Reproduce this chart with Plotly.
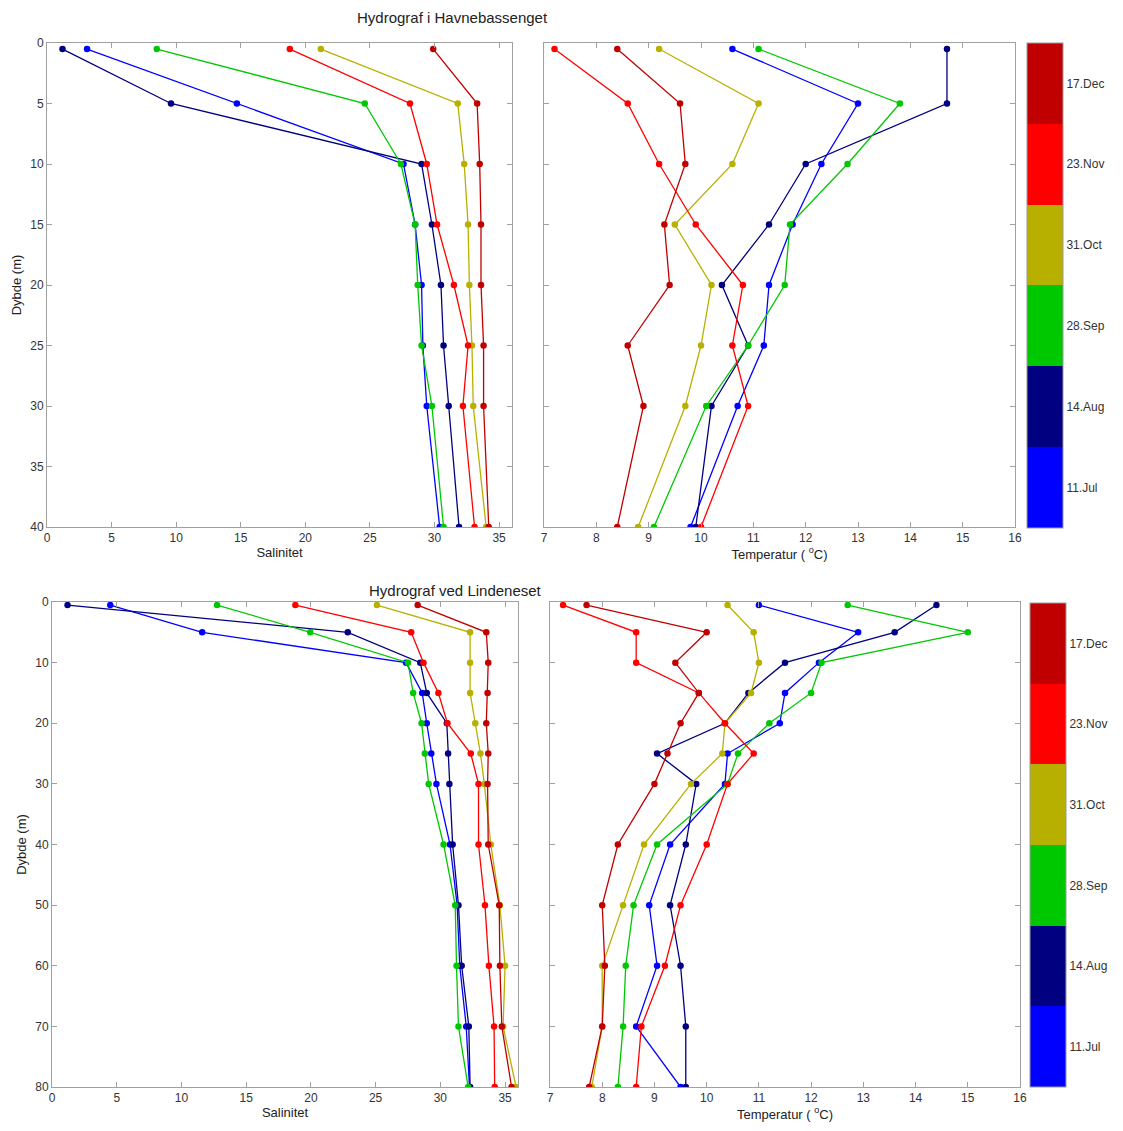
import plotly.graph_objects as go

# ---------------- data ----------------
dates = ["11.Jul", "14.Aug", "28.Sep", "31.Oct", "23.Nov", "17.Dec"]
colors = ["#0000ff", "#000080", "#00c800", "#b8b000", "#ff0000", "#c00000"]

depth_havn = [0.5, 5, 10, 15, 20, 25, 30, 40]
depth_lind = [0.5, 5, 10, 15, 20, 25, 30, 40, 50, 60, 70, 80]

# Hydrograf i Havnebassenget - salinity
sal_havn_jul = [3.1, 14.7, 27.6, 28.5, 29.0, 29.1, 29.4, 30.4]
sal_havn_aug = [1.2, 9.6, 29.0, 29.8, 30.5, 30.7, 31.1, 31.9]
sal_havn_sep = [8.5, 24.6, 27.4, 28.5, 28.7, 29.0, 29.8, 30.7]
sal_havn_oct = [21.2, 31.8, 32.3, 32.6, 32.7, 32.9, 33.0, 34.0]
sal_havn_nov = [18.8, 28.1, 29.4, 30.2, 31.5, 32.6, 32.2, 33.1]
sal_havn_dec = [29.9, 33.3, 33.5, 33.6, 33.6, 33.8, 33.8, 34.2]

# Hydrograf i Havnebassenget - temperature
tmp_havn_jul = [10.6, 13.0, 12.3, 11.75, 11.3, 11.2, 10.7, 9.8]
tmp_havn_aug = [14.7, 14.7, 12.0, 11.3, 10.4, 10.9, 10.2, 9.9]
tmp_havn_sep = [11.1, 13.8, 12.8, 11.7, 11.6, 10.9, 10.1, 9.1]
tmp_havn_oct = [9.2, 11.1, 10.6, 9.5, 10.2, 10.0, 9.7, 8.8]
tmp_havn_nov = [7.2, 8.6, 9.2, 9.9, 10.8, 10.6, 10.9, 10.0]
tmp_havn_dec = [8.4, 9.6, 9.7, 9.3, 9.4, 8.6, 8.9, 8.4]

# Hydrograf ved Lindeneset - salinity
sal_lind_jul = [4.5, 11.6, 27.35, 28.6, 28.95, 29.3, 29.7, 30.75, 31.3, 31.5, 32.0, 32.25]
sal_lind_aug = [1.2, 22.85, 28.45, 28.95, 30.5, 30.6, 30.7, 30.95, 31.4, 31.65, 32.2, 32.3]
sal_lind_sep = [12.75, 19.95, 27.5, 27.9, 28.55, 28.8, 29.1, 30.25, 31.15, 31.25, 31.4, 32.15]
sal_lind_oct = [25.1, 32.3, 32.3, 32.3, 32.7, 33.1, 33.4, 33.9, 34.6, 35.0, 34.85, 35.85]
sal_lind_nov = [18.8, 27.75, 28.7, 29.85, 30.55, 32.35, 32.95, 32.95, 33.45, 33.75, 34.15, 34.2]
sal_lind_dec = [28.25, 33.55, 33.7, 33.65, 33.55, 33.7, 33.65, 33.7, 34.55, 34.6, 34.75, 35.5]

# Hydrograf ved Lindeneset - temperature
tmp_lind_jul = [11.0, 12.9, 12.15, 11.5, 11.4, 10.4, 10.35, 9.3, 8.9, 9.05, 8.65, 9.5]
tmp_lind_aug = [14.4, 13.6, 11.5, 10.8, 10.35, 9.05, 9.8, 9.6, 9.3, 9.5, 9.6, 9.6]
tmp_lind_sep = [12.7, 15.0, 12.2, 12.0, 11.2, 10.6, 10.4, 9.05, 8.6, 8.45, 8.4, 8.3]
tmp_lind_oct = [10.4, 10.9, 11.0, 10.85, 10.35, 10.3, 9.7, 8.8, 8.4, 8.0, 8.0, 7.8]
tmp_lind_nov = [7.25, 8.65, 8.65, 9.85, 10.35, 10.9, 10.4, 10.0, 9.5, 9.2, 8.75, 8.65]
tmp_lind_dec = [7.7, 10.0, 9.4, 9.85, 9.5, 9.25, 9.0, 8.3, 8.0, 8.05, 8.0, 7.75]

sal_x_range = [0, 36]
tmp_x_range = [7, 16]
sal_ticks = [0, 5, 10, 15, 20, 25, 30, 35]
tmp_ticks = [7, 8, 9, 10, 11, 12, 13, 14, 15, 16]
havn_y_ticks = [0, 5, 10, 15, 20, 25, 30, 35, 40]
lind_y_ticks = [0, 10, 20, 30, 40, 50, 60, 70, 80]

title_havn = "Hydrograf i Havnebassenget"
title_lind = "Hydrograf ved Lindeneset"

panels = [
    ("x", "y", depth_havn, [sal_havn_jul, sal_havn_aug, sal_havn_sep, sal_havn_oct, sal_havn_nov, sal_havn_dec]),
    ("x2", "y2", depth_havn, [tmp_havn_jul, tmp_havn_aug, tmp_havn_sep, tmp_havn_oct, tmp_havn_nov, tmp_havn_dec]),
    ("x3", "y3", depth_lind, [sal_lind_jul, sal_lind_aug, sal_lind_sep, sal_lind_oct, sal_lind_nov, sal_lind_dec]),
    ("x4", "y4", depth_lind, [tmp_lind_jul, tmp_lind_aug, tmp_lind_sep, tmp_lind_oct, tmp_lind_nov, tmp_lind_dec]),
]

# page body has an 8px margin; the figure is sized to fit the window inside it
OFF = 8
W, H = 1123 - 2 * OFF, 1131 - 2 * OFF

def fx(sx):
    return (sx - OFF) / W
def fy(sy):
    return 1 - (sy - OFF) / H
def px_x(a, b):
    return [fx(a), fx(b)]
def px_y(top, bot):
    return [fy(bot), fy(top)]

fig = go.Figure()
for xa, ya, depth, series in panels:
    for name, col, vals in zip(dates, colors, series):
        fig.add_trace(go.Scatter(
            x=vals, y=depth, xaxis=xa, yaxis=ya, name=name,
            mode="lines+markers",
            line=dict(color=col, width=1.3),
            marker=dict(color=col, size=6.5, symbol="circle"),
            showlegend=False,
        ))

# colorbars (one per row)
scale = []
for i, c in enumerate(colors):
    scale.append([i / 6, c])
    scale.append([(i + 1) / 6, c])

def cbar_trace(xa, ya, x0, top, bot):
    return go.Scatter(
        x=[None] * 6, y=[None] * 6, xaxis=xa, yaxis=ya, mode="markers",
        showlegend=False, hoverinfo="skip",
        marker=dict(
            color=list(range(1, 7)), colorscale=scale, cmin=0.5, cmax=6.5,
            showscale=True,
            colorbar=dict(
                x=fx(x0), xanchor="left", xpad=0, ypad=0,
                y=fy((top + bot) / 2), yanchor="middle",
                len=(bot - top) / H, lenmode="fraction",
                thickness=36, thicknessmode="pixels",
                tickvals=list(range(1, 7)), ticktext=dates, ticks="",
                tickfont=dict(size=12, color="#333"),
                outlinewidth=1, outlinecolor="#999",
            ),
        ),
    )

fig.add_trace(cbar_trace("x2", "y2", 1027, 43, 528))
fig.add_trace(cbar_trace("x4", "y4", 1030, 603, 1087))

axis_common = dict(
    showgrid=False, zeroline=False, showline=True, linecolor="#a0a0a0", linewidth=1,
    mirror="ticks", ticks="inside", ticklen=5, tickcolor="#a0a0a0", automargin=False,
    tickfont=dict(family="Liberation Sans, Arial, sans-serif", size=12, color="#333"),
)

fig.update_layout(
    width=W, height=H, autosize=False,
    margin=dict(l=0, r=0, t=0, b=0, pad=0, autoexpand=False),
    paper_bgcolor="white", plot_bgcolor="white",
    font=dict(family="Liberation Sans, Arial, sans-serif", color="#222"),
    xaxis=dict(domain=px_x(47, 512), range=sal_x_range, tickvals=sal_ticks, anchor="y",
               title=dict(text="Salinitet", font=dict(size=13), standoff=2), **axis_common),
    yaxis=dict(domain=px_y(43, 527), range=[40, 0], tickvals=havn_y_ticks, anchor="x",
               title=dict(text="Dybde (m)", font=dict(size=13), standoff=5), **axis_common),
    xaxis2=dict(domain=px_x(544, 1015), range=tmp_x_range, tickvals=tmp_ticks, anchor="y2",
                title=dict(text="Temperatur ( <sup>o</sup>C)", font=dict(size=13), standoff=2), **axis_common),
    yaxis2=dict(domain=px_y(43, 527), range=[40, 0], tickvals=havn_y_ticks, anchor="x2",
                showticklabels=False, **axis_common),
    xaxis3=dict(domain=px_x(52, 518), range=sal_x_range, tickvals=sal_ticks, anchor="y3",
                title=dict(text="Salinitet", font=dict(size=13), standoff=2), **axis_common),
    yaxis3=dict(domain=px_y(602, 1087), range=[80, 0], tickvals=lind_y_ticks, anchor="x3",
                title=dict(text="Dybde (m)", font=dict(size=13), standoff=5), **axis_common),
    xaxis4=dict(domain=px_x(550, 1020), range=tmp_x_range, tickvals=tmp_ticks, anchor="y4",
                title=dict(text="Temperatur ( <sup>o</sup>C)", font=dict(size=13), standoff=2), **axis_common),
    yaxis4=dict(domain=px_y(602, 1087), range=[80, 0], tickvals=lind_y_ticks, anchor="x4",
                showticklabels=False, **axis_common),
    annotations=[
        dict(text=title_havn, x=fx(452), y=fy(17), xref="paper", yref="paper",
             showarrow=False, font=dict(size=15, color="#222"), xanchor="center", yanchor="middle"),
        dict(text=title_lind, x=fx(455), y=fy(590), xref="paper", yref="paper",
             showarrow=False, font=dict(size=15, color="#222"), xanchor="center", yanchor="middle"),
    ],
)

fig.write_html("out.html")
